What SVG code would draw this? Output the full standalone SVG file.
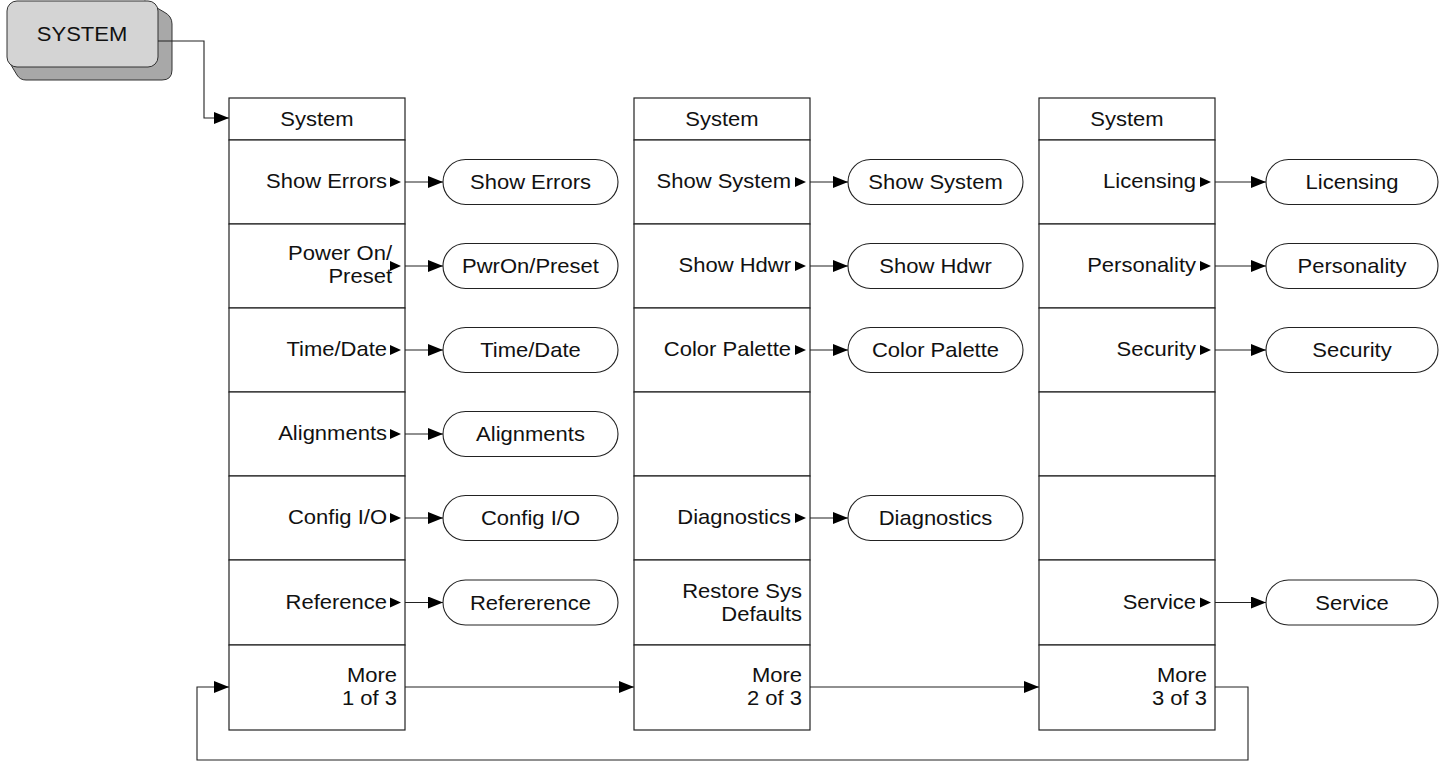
<svg xmlns="http://www.w3.org/2000/svg" width="1439" height="763" viewBox="0 0 1439 763">
<style>
text{font-family:"Liberation Sans",Arial,sans-serif;font-size:20px;fill:#111}
.c{text-anchor:middle}
.e{text-anchor:end}
.cell{fill:#fff;stroke:#222;stroke-width:1.2}
.pill{fill:#fff;stroke:#222;stroke-width:1.1}
.tri{fill:#000}
.ln{fill:none;stroke:#222;stroke-width:1.1}
</style>
<defs>
<marker id="ah" markerUnits="userSpaceOnUse" markerWidth="16" markerHeight="13" refX="15" refY="6" orient="auto" viewBox="0 0 16 13">
<path d="M0,0 L15,6 L0,12 z" fill="#000"/>
</marker>
</defs>
<rect width="1439" height="763" fill="#fff"/>

<g id="system-key">
<path d="M145,1 L164,12 Q172,16 172,24 V70 Q172,80 162,80 H26 Q20,80 17,75 L8,60 Z" fill="#a8a8a8" stroke="#333" stroke-width="1"/>
<rect x="7" y="1" width="151" height="66" rx="10" fill="#d4d4d4" stroke="#333" stroke-width="1"/>
<text class="c" transform="translate(82,41) scale(1.1,1)">SYSTEM</text>
</g>

<g id="connectors" class="ln">
<path class="ln" d="M158,41 H204 V118 H229" marker-end="url(#ah)"/>
<path class="ln" d="M401,182 H443" marker-end="url(#ah)"/>
<path class="ln" d="M401,266 H443" marker-end="url(#ah)"/>
<path class="ln" d="M401,350 H443" marker-end="url(#ah)"/>
<path class="ln" d="M401,434 H443" marker-end="url(#ah)"/>
<path class="ln" d="M401,518 H443" marker-end="url(#ah)"/>
<path class="ln" d="M401,602.5 H443" marker-end="url(#ah)"/>
<path class="ln" d="M806,182 H848" marker-end="url(#ah)"/>
<path class="ln" d="M806,266 H848" marker-end="url(#ah)"/>
<path class="ln" d="M806,350 H848" marker-end="url(#ah)"/>
<path class="ln" d="M806,518 H848" marker-end="url(#ah)"/>
<path class="ln" d="M1211,182 H1266" marker-end="url(#ah)"/>
<path class="ln" d="M1211,266 H1266" marker-end="url(#ah)"/>
<path class="ln" d="M1211,350 H1266" marker-end="url(#ah)"/>
<path class="ln" d="M1211,602.5 H1266" marker-end="url(#ah)"/>
<path class="ln" d="M405,687 H634" marker-end="url(#ah)"/>
<path class="ln" d="M810,687 H1039" marker-end="url(#ah)"/>
<path class="ln" d="M1215,687 H1248 V760 H197 V687 H229" marker-end="url(#ah)"/>
</g>

<g id="menu1">
<rect class="cell" x="229" y="98" width="176" height="42"/>
<rect class="cell" x="229" y="140" width="176" height="84"/>
<rect class="cell" x="229" y="224" width="176" height="84"/>
<rect class="cell" x="229" y="308" width="176" height="84"/>
<rect class="cell" x="229" y="392" width="176" height="84"/>
<rect class="cell" x="229" y="476" width="176" height="84"/>
<rect class="cell" x="229" y="560" width="176" height="85"/>
<rect class="cell" x="229" y="645" width="176" height="85"/>
<text class="c" transform="translate(317,126) scale(1.1,1)">System</text>
<text class="e" transform="translate(387,188) scale(1.1,1)">Show Errors</text>
<text class="e" transform="translate(392,260) scale(1.1,1)">Power On/</text>
<text class="e" transform="translate(392,283) scale(1.1,1)">Preset</text>
<text class="e" transform="translate(387,356) scale(1.1,1)">Time/Date</text>
<text class="e" transform="translate(387,440) scale(1.1,1)">Alignments</text>
<text class="e" transform="translate(387,524) scale(1.1,1)">Config I/O</text>
<text class="e" transform="translate(387,608.5) scale(1.1,1)">Reference</text>
<text class="e" transform="translate(397,682) scale(1.1,1)">More</text>
<text class="e" transform="translate(397,705) scale(1.1,1)">1 of 3</text>
<path class="tri" d="M390,177 L401,182 L390,187 z"/>
<path class="tri" d="M390,261 L401,266 L390,271 z"/>
<path class="tri" d="M390,345 L401,350 L390,355 z"/>
<path class="tri" d="M390,429 L401,434 L390,439 z"/>
<path class="tri" d="M390,513 L401,518 L390,523 z"/>
<path class="tri" d="M390,597.5 L401,602.5 L390,607.5 z"/>
</g>

<g id="pills1">
<rect class="pill" x="443" y="159.5" width="175" height="45" rx="22.5"/>
<text class="c" transform="translate(530.5,189) scale(1.1,1)">Show Errors</text>
<rect class="pill" x="443" y="243.5" width="175" height="45" rx="22.5"/>
<text class="c" transform="translate(530.5,273) scale(1.1,1)">PwrOn/Preset</text>
<rect class="pill" x="443" y="327.5" width="175" height="45" rx="22.5"/>
<text class="c" transform="translate(530.5,357) scale(1.1,1)">Time/Date</text>
<rect class="pill" x="443" y="411.5" width="175" height="45" rx="22.5"/>
<text class="c" transform="translate(530.5,441) scale(1.1,1)">Alignments</text>
<rect class="pill" x="443" y="495.5" width="175" height="45" rx="22.5"/>
<text class="c" transform="translate(530.5,525) scale(1.1,1)">Config I/O</text>
<rect class="pill" x="443" y="580" width="175" height="45" rx="22.5"/>
<text class="c" transform="translate(530.5,609.5) scale(1.1,1)">Refererence</text>
</g>

<g id="menu2">
<rect class="cell" x="634" y="98" width="176" height="42"/>
<rect class="cell" x="634" y="140" width="176" height="84"/>
<rect class="cell" x="634" y="224" width="176" height="84"/>
<rect class="cell" x="634" y="308" width="176" height="84"/>
<rect class="cell" x="634" y="392" width="176" height="84"/>
<rect class="cell" x="634" y="476" width="176" height="84"/>
<rect class="cell" x="634" y="560" width="176" height="85"/>
<rect class="cell" x="634" y="645" width="176" height="85"/>
<text class="c" transform="translate(722,126) scale(1.1,1)">System</text>
<text class="e" transform="translate(791,188) scale(1.1,1)">Show System</text>
<text class="e" transform="translate(791,272) scale(1.1,1)">Show Hdwr</text>
<text class="e" transform="translate(791,356) scale(1.1,1)">Color Palette</text>
<text class="e" transform="translate(791,524) scale(1.1,1)">Diagnostics</text>
<text class="e" transform="translate(802,597.5) scale(1.1,1)">Restore Sys</text>
<text class="e" transform="translate(802,620.5) scale(1.1,1)">Defaults</text>
<text class="e" transform="translate(802,682) scale(1.1,1)">More</text>
<text class="e" transform="translate(802,705) scale(1.1,1)">2 of 3</text>
<path class="tri" d="M795,177 L806,182 L795,187 z"/>
<path class="tri" d="M795,261 L806,266 L795,271 z"/>
<path class="tri" d="M795,345 L806,350 L795,355 z"/>
<path class="tri" d="M795,513 L806,518 L795,523 z"/>
</g>

<g id="pills2">
<rect class="pill" x="848" y="159.5" width="175" height="45" rx="22.5"/>
<text class="c" transform="translate(935.5,189) scale(1.1,1)">Show System</text>
<rect class="pill" x="848" y="243.5" width="175" height="45" rx="22.5"/>
<text class="c" transform="translate(935.5,273) scale(1.1,1)">Show Hdwr</text>
<rect class="pill" x="848" y="327.5" width="175" height="45" rx="22.5"/>
<text class="c" transform="translate(935.5,357) scale(1.1,1)">Color Palette</text>
<rect class="pill" x="848" y="495.5" width="175" height="45" rx="22.5"/>
<text class="c" transform="translate(935.5,525) scale(1.1,1)">Diagnostics</text>
</g>

<g id="menu3">
<rect class="cell" x="1039" y="98" width="176" height="42"/>
<rect class="cell" x="1039" y="140" width="176" height="84"/>
<rect class="cell" x="1039" y="224" width="176" height="84"/>
<rect class="cell" x="1039" y="308" width="176" height="84"/>
<rect class="cell" x="1039" y="392" width="176" height="84"/>
<rect class="cell" x="1039" y="476" width="176" height="84"/>
<rect class="cell" x="1039" y="560" width="176" height="85"/>
<rect class="cell" x="1039" y="645" width="176" height="85"/>
<text class="c" transform="translate(1127,126) scale(1.1,1)">System</text>
<text class="e" transform="translate(1196,188) scale(1.1,1)">Licensing</text>
<text class="e" transform="translate(1196,272) scale(1.1,1)">Personality</text>
<text class="e" transform="translate(1196,356) scale(1.1,1)">Security</text>
<text class="e" transform="translate(1196,608.5) scale(1.1,1)">Service</text>
<text class="e" transform="translate(1207,682) scale(1.1,1)">More</text>
<text class="e" transform="translate(1207,705) scale(1.1,1)">3 of 3</text>
<path class="tri" d="M1200,177 L1211,182 L1200,187 z"/>
<path class="tri" d="M1200,261 L1211,266 L1200,271 z"/>
<path class="tri" d="M1200,345 L1211,350 L1200,355 z"/>
<path class="tri" d="M1200,597.5 L1211,602.5 L1200,607.5 z"/>
</g>

<g id="pills3">
<rect class="pill" x="1266" y="159.5" width="172" height="45" rx="22.5"/>
<text class="c" transform="translate(1352,189) scale(1.1,1)">Licensing</text>
<rect class="pill" x="1266" y="243.5" width="172" height="45" rx="22.5"/>
<text class="c" transform="translate(1352,273) scale(1.1,1)">Personality</text>
<rect class="pill" x="1266" y="327.5" width="172" height="45" rx="22.5"/>
<text class="c" transform="translate(1352,357) scale(1.1,1)">Security</text>
<rect class="pill" x="1266" y="580" width="172" height="45" rx="22.5"/>
<text class="c" transform="translate(1352,609.5) scale(1.1,1)">Service</text>
</g>
</svg>
